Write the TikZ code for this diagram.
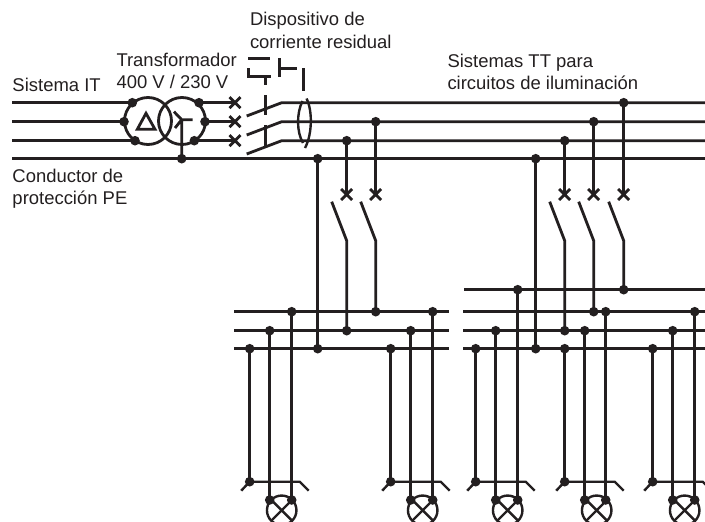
\documentclass[tikz,border=0pt]{standalone}
\usepackage{fontspec}
\setmainfont{Liberation Sans}
\usetikzlibrary{shapes.misc}
\definecolor{ink}{HTML}{231F20}
\tikzset{
  wire/.style={line width=2.8pt,color=ink},
  thin wire/.style={line width=2.4pt,color=ink},
  dot/.style={circle,fill=ink,draw=none,minimum size=9.6pt,inner sep=0pt,outer sep=0pt},
  brk/.style={cross out,draw=ink,line width=2.8pt,minimum size=11pt,inner sep=0pt,outer sep=0pt},
  coil/.style={circle,draw=ink,line width=2.8pt,minimum size=47pt,inner sep=0pt,outer sep=0pt},
  lamp/.style={circle,draw=ink,line width=2.4pt,minimum size=29.5pt,inner sep=0pt,outer sep=0pt},
  lbl/.style={anchor=north west,align=left,inner sep=0pt,outer sep=0pt,text=ink,font=\fontsize{18.45}{22.5}\selectfont},
}
% id, x of first conductor, x of third conductor, then the three upper junctions
\newcommand{\loadunit}[6]{%
  \node[dot] (#1a) at (#2,481.7) {};
  \node[dot] (#1b) at (#2+20,500) {};
  \node[dot] (#1c) at (#3,500) {};
  \node[lamp] (#1l) at (#2+32,510.3) {};
  \coordinate (#1t) at (#2-8.5,490.7);
  \coordinate (#1k) at (#2+50,481.7);
  \coordinate (#1e) at (#2+59,490.7);
  \draw[wire] (#4.center) -- (#1a.center);
  \draw[wire] (#5.center) -- (#1b.center);
  \draw[wire] (#6.center) -- (#1c.center);
  \draw[thin wire] (#1t) -- (#1a.center) -- (#1k) -- (#1e);
  \draw[thin wire] (#1l.45) -- (#1l.225) (#1l.135) -- (#1l.315);
}
\begin{document}
\begin{tikzpicture}[x=1pt,y=-1pt]
\useasboundingbox (0,0) rectangle (705,522);
\clip (0,0) rectangle (705,522);
% labels
\node[lbl] (t1) at (250,12.5) {Dispositivo de\\corriente residual};
\node[lbl] (t2) at (116.5,53) {Transformador\\400 V / 230 V};
\node[lbl] (t3) at (447.5,54) {Sistemas TT para\\circuitos de iluminación};
\node[lbl] (t4) at (12.5,78.5) {Sistema IT};
\node[lbl] (t5) at (12.5,169) {Conductor de\\protección PE};
% transformer
\node[coil] (T1) at (148,121) {};
\node[coil] (T2) at (182,121) {};
\node[dot] (la) at (132.3,102.7) {};
\node[dot] (lb) at (124,121.7) {};
\node[dot] (lc) at (135,140.7) {};
\node[dot] (ra) at (199,102.7) {};
\node[dot] (rb) at (205,121.7) {};
\node[dot] (rc) at (194.3,140.7) {};
\draw[wire] (137.3,129.3) -- (155,129.3) -- (146,113.3) -- cycle;
\node[dot] (star) at (181.7,158.7) {};
\coordinate (sc) at (181.7,119.7);
\draw[wire] (star.center) -- (sc) (174,111.7) -- (sc) -- (175,128) (sc) -- (192.7,119.7);
% supply ends
\coordinate (ia) at (12,102.7);
\coordinate (ib) at (12,121.7);
\coordinate (ic) at (12,140.7);
\coordinate (pa) at (12,158.7);
\coordinate (pz) at (705,158.7);
\draw[wire] (ia) -- (la.center) (ib) -- (lb.center) (ic) -- (lc.center) (pa) -- (pz);
% main breaker
\node[brk] (xa) at (235,102.7) {};
\node[brk] (xb) at (235,121.7) {};
\node[brk] (xc) at (235,140.7) {};
\draw[wire] (ra.center) -- (xa.center) (rb.center) -- (xb.center) (rc.center) -- (xc.center);
\coordinate (ba) at (246.7,116);
\coordinate (bb) at (246.7,135);
\coordinate (bc) at (246.7,154);
\coordinate (sa) at (281.7,102.7);
\coordinate (sb) at (281.7,121.7);
\coordinate (sd) at (281.7,140.7);
\coordinate (ea) at (705,102.7);
\coordinate (eb) at (705,121.7);
\coordinate (ec) at (705,140.7);
\draw[wire] (ba) -- (sa) -- (ea) (bb) -- (sb) -- (eb) (bc) -- (sd) -- (ec);
% residual current device
\draw[wire] (248,58.7) -- (270,58.7);
\draw[wire] (248.7,68) -- (248.7,76.7) -- (271,76.7);
\draw[wire] (265.7,76) -- (265.7,85);
\draw[wire] (265.7,95) -- (265.7,115);
\draw[wire] (265.7,125) -- (265.7,146.7);
\draw[wire] (279.7,58) -- (279.7,77) (279.7,68.7) -- (297,68.7);
\draw[wire] (303.7,68) -- (303.7,90.7);
\draw[thin wire] (302.5,101) .. controls (296.5,113) and (296.5,132) .. (303,143);
\draw[thin wire] (306.5,98.5) .. controls (312.5,110) and (312.5,134) .. (305,148);
% tap junctions on main bus
\node[dot] (j0) at (317.7,158.7) {};
\node[dot] (j1) at (346.7,140.7) {};
\node[dot] (j2) at (375.7,121.7) {};
\node[dot] (k0) at (535.7,158.7) {};
\node[dot] (k1) at (564.7,140.7) {};
\node[dot] (k2) at (593.7,121.7) {};
\node[dot] (k3) at (623.7,102.7) {};
% branch breakers
\foreach \n/\x in {1/346.7,2/375.7,4/564.7,5/593.7,6/623.7}{
  \node[brk] (q\n) at (\x,194.5) {};
  \coordinate (w\n) at (\x-15,201.7);
  \coordinate (v\n) at (\x,240.7);
}
\draw[wire] (j1.center) -- (q1.center) (j2.center) -- (q2.center)
  (k1.center) -- (q4.center) (k2.center) -- (q5.center) (k3.center) -- (q6.center);
% left distribution board
\coordinate (La1) at (234,311.7); \coordinate (La2) at (449,311.7);
\coordinate (Lb1) at (234,330.7); \coordinate (Lb2) at (449,330.7);
\coordinate (Lc1) at (234,348.7);   \coordinate (Lc2) at (449,348.7);
\draw[wire] (La1) -- (La2) (Lb1) -- (Lb2) (Lc1) -- (Lc2);
\node[dot] (a1) at (291.7,311.7) {};
\node[dot] (a2) at (375.7,311.7) {};
\node[dot] (a3) at (432.7,311.7) {};
\node[dot] (b1) at (269.7,330.7) {};
\node[dot] (b2) at (346.7,330.7) {};
\node[dot] (b3) at (410.7,330.7) {};
\node[dot] (c1) at (249.7,348.7) {};
\node[dot] (c2) at (317.7,348.7) {};
\node[dot] (c3) at (390.7,348.7) {};
\draw[wire] (j0.center) -- (c2.center);
\draw[wire] (w1) -- (v1) -- (b2.center);
\draw[wire] (w2) -- (v2) -- (a2.center);
% right distribution board
\coordinate (Ra1) at (464,289.7);   \coordinate (Ra2) at (705,289.7);
\coordinate (Rb1) at (463,311.7); \coordinate (Rb2) at (705,311.7);
\coordinate (Rc1) at (463,330.7); \coordinate (Rc2) at (705,330.7);
\coordinate (Rd1) at (463,348.7);   \coordinate (Rd2) at (705,348.7);
\draw[wire] (Ra1) -- (Ra2) (Rb1) -- (Rb2) (Rc1) -- (Rc2) (Rd1) -- (Rd2);
\node[dot] (d1) at (517.7,289.7) {};
\node[dot] (d2) at (623.7,289.7) {};
\node[dot] (e1) at (593.7,311.7) {};
\node[dot] (e2) at (605.7,311.7) {};
\node[dot] (e3) at (694.7,311.7) {};
\node[dot] (f1) at (495.7,330.7) {};
\node[dot] (f2) at (564.7,330.7) {};
\node[dot] (f3) at (584.7,330.7) {};
\node[dot] (f4) at (672.7,330.7) {};
\node[dot] (g1) at (475.7,348.7) {};
\node[dot] (g2) at (535.7,348.7) {};
\node[dot] (g3) at (564.7,348.7) {};
\node[dot] (g4) at (652.7,348.7) {};
\draw[wire] (k0.center) -- (g2.center);
\draw[wire] (w4) -- (v4) -- (f2.center);
\draw[wire] (w5) -- (v5) -- (e1.center);
\draw[wire] (w6) -- (v6) -- (d2.center);
% loads
\loadunit{A}{249.7}{291.7}{c1}{b1}{a1}
\loadunit{B}{390.7}{432.7}{c3}{b3}{a3}
\loadunit{C}{475.7}{517.7}{g1}{f1}{d1}
\loadunit{D}{564.7}{605.7}{g3}{f3}{e2}
\loadunit{E}{652.7}{694.7}{g4}{f4}{e3}
\end{tikzpicture}
\end{document}
